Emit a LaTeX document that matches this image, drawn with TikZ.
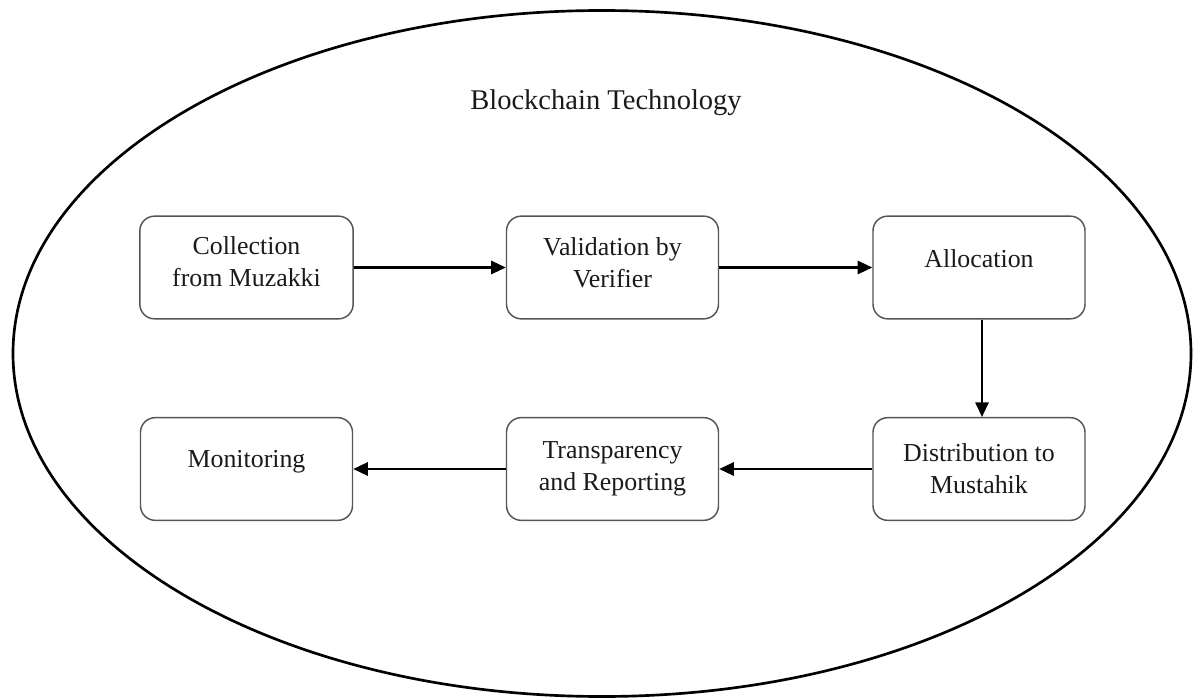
\documentclass[tikz,border=0pt]{standalone}
\usepackage{fontspec}
\setmainfont{Liberation Serif}
\usetikzlibrary{arrows.meta,calc}
\definecolor{boxline}{HTML}{555555}
\definecolor{txt}{HTML}{1A1A1A}
\tikzset{
  stepbox/.style={draw=boxline, line width=1.1pt, rounded corners=11pt, minimum width=159pt, minimum height=77pt, align=center, text=txt, font=\fontsize{19.4pt}{24pt}\selectfont, inner sep=0pt},
  lifttext/.style={text depth=#1},
  arr/.style={line width=1.6pt, -{Triangle[length=11pt,width=10pt]}},
  ring/.style={line width=2pt}
}
\begin{document}
\begin{tikzpicture}[x=0.75pt,y=-0.75pt]
\useasboundingbox (0,0) rectangle (1193,699);
\draw[ring] (602,353.5) ellipse [x radius=589, y radius=343];
\node[anchor=base, text=txt, font=\fontsize{21.4pt}{24pt}\selectfont] (title) at (606,109) {Blockchain Technology};
\node[stepbox, minimum width=160pt, lifttext=9pt] (coll) at (246.5,267.5) {Collection\\from Muzakki};
\node[stepbox, lifttext=7.5pt] (valid) at (612.5,267.5) {Validation by\\Verifier};
\node[stepbox, lifttext=13pt] (alloc) at (979,267.5) {Allocation};
\node[stepbox] (dist) at (979,469) {Distribution to\\Mustahik};
\node[stepbox] (trans) at (612.5,469) {Transparency\\and Reporting};
\node[stepbox, lifttext=14.5pt] (mon) at (246.5,469) {Monitoring};
\draw[arr] (coll) -- (valid);
\draw[arr] (valid) -- (alloc);
\draw[arr] ([xshift=2.25pt]alloc.south) -- ([xshift=2.25pt]dist.north);
\draw[arr] (dist) -- (trans);
\draw[arr] (trans) -- (mon);
\end{tikzpicture}
\end{document}
